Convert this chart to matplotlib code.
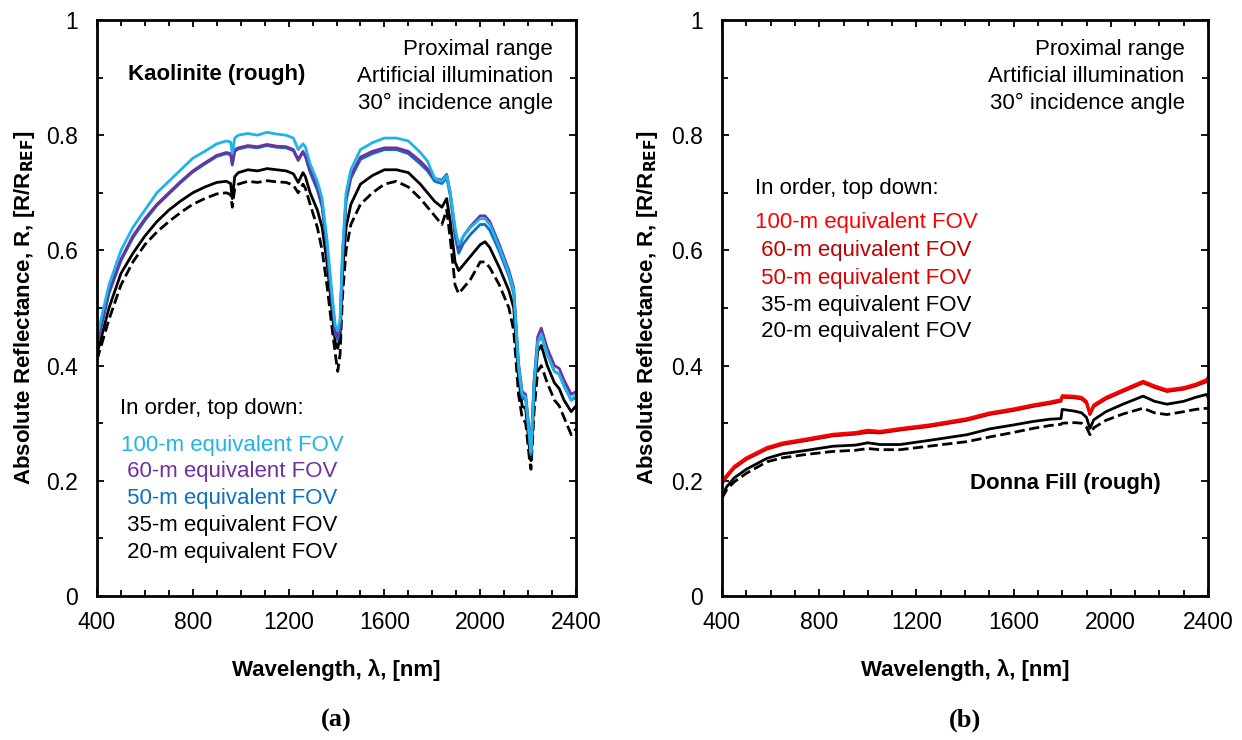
import matplotlib
matplotlib.use("Agg")
import matplotlib.pyplot as plt
from matplotlib.ticker import MultipleLocator

plt.rcParams['font.family'] = ['Liberation Sans', 'DejaVu Sans']

# ---------------- Panel (a): Kaolinite (rough) ----------------
wl_a = [400, 450, 500, 550, 600, 650, 700, 750, 800, 850, 900, 940, 958, 965, 975,
        990, 1030, 1070, 1110, 1150, 1190, 1220, 1240, 1260, 1270, 1290, 1320, 1340,
        1360, 1380, 1395, 1405, 1415, 1425, 1440, 1460, 1500, 1550, 1600, 1650, 1700,
        1750, 1780, 1810, 1840, 1860, 1875, 1895, 1910, 1930, 1960, 2000, 2020, 2040,
        2080, 2120, 2140, 2160, 2175, 2190, 2205, 2212, 2225, 2240, 2255, 2280, 2310,
        2330, 2350, 2380, 2400]

r_100 = [0.45, 0.54, 0.60, 0.64, 0.67, 0.70, 0.72, 0.74, 0.76, 0.772, 0.785, 0.79, 0.788, 0.768, 0.795,
         0.800, 0.803, 0.800, 0.805, 0.802, 0.800, 0.795, 0.775, 0.785, 0.78, 0.75, 0.72, 0.69,
         0.62, 0.53, 0.47, 0.46, 0.48, 0.60, 0.70, 0.74, 0.775, 0.787, 0.795, 0.795, 0.79,
         0.77, 0.755, 0.725, 0.72, 0.73, 0.70, 0.64, 0.61, 0.625, 0.64, 0.655, 0.655, 0.645,
         0.605, 0.56, 0.53, 0.40, 0.35, 0.345, 0.28, 0.25, 0.37, 0.44, 0.455, 0.42, 0.39,
         0.385, 0.365, 0.34, 0.35]

r_60 = [0.44, 0.53, 0.585, 0.625, 0.655, 0.68, 0.70, 0.72, 0.738, 0.752, 0.765, 0.77, 0.768, 0.75, 0.775,
        0.778, 0.782, 0.780, 0.784, 0.781, 0.780, 0.775, 0.758, 0.772, 0.765, 0.74, 0.71, 0.68,
        0.61, 0.52, 0.46, 0.45, 0.47, 0.59, 0.69, 0.73, 0.762, 0.772, 0.778, 0.778, 0.772,
        0.755, 0.742, 0.725, 0.722, 0.732, 0.70, 0.635, 0.605, 0.625, 0.642, 0.66, 0.66, 0.65,
        0.61, 0.565, 0.535, 0.405, 0.355, 0.35, 0.285, 0.255, 0.375, 0.45, 0.465, 0.43, 0.40,
        0.395, 0.375, 0.35, 0.355]

r_50 = [0.435, 0.525, 0.582, 0.622, 0.652, 0.678, 0.698, 0.718, 0.736, 0.75, 0.763, 0.768, 0.766, 0.748, 0.772,
        0.776, 0.780, 0.778, 0.782, 0.779, 0.778, 0.773, 0.756, 0.770, 0.763, 0.735, 0.705, 0.675,
        0.605, 0.515, 0.455, 0.445, 0.465, 0.585, 0.685, 0.725, 0.758, 0.768, 0.775, 0.775, 0.768,
        0.75, 0.738, 0.72, 0.716, 0.726, 0.695, 0.625, 0.595, 0.612, 0.628, 0.645, 0.645, 0.635,
        0.598, 0.555, 0.525, 0.395, 0.345, 0.34, 0.275, 0.245, 0.365, 0.44, 0.452, 0.42, 0.39,
        0.385, 0.365, 0.34, 0.345]

r_35 = [0.42, 0.50, 0.56, 0.595, 0.625, 0.65, 0.67, 0.686, 0.70, 0.71, 0.718, 0.72, 0.716, 0.69, 0.728,
        0.735, 0.740, 0.738, 0.742, 0.740, 0.738, 0.733, 0.718, 0.735, 0.728, 0.70, 0.67, 0.64,
        0.58, 0.50, 0.44, 0.43, 0.45, 0.56, 0.64, 0.68, 0.715, 0.73, 0.74, 0.74, 0.735,
        0.715, 0.70, 0.685, 0.675, 0.69, 0.65, 0.58, 0.565, 0.575, 0.59, 0.61, 0.615, 0.605,
        0.57, 0.53, 0.50, 0.38, 0.33, 0.325, 0.26, 0.235, 0.35, 0.425, 0.435, 0.40, 0.37,
        0.36, 0.34, 0.32, 0.33]

r_20 = [0.41, 0.48, 0.54, 0.58, 0.61, 0.632, 0.65, 0.666, 0.68, 0.69, 0.698, 0.70, 0.697, 0.675, 0.708,
        0.715, 0.720, 0.718, 0.721, 0.719, 0.718, 0.713, 0.70, 0.715, 0.708, 0.68, 0.64, 0.60,
        0.54, 0.47, 0.42, 0.39, 0.42, 0.52, 0.60, 0.645, 0.68, 0.70, 0.715, 0.72, 0.71,
        0.69, 0.675, 0.66, 0.645, 0.67, 0.62, 0.54, 0.525, 0.535, 0.55, 0.58, 0.58, 0.57,
        0.54, 0.50, 0.46, 0.35, 0.31, 0.30, 0.24, 0.22, 0.32, 0.39, 0.40, 0.37, 0.34,
        0.33, 0.31, 0.28, 0.29]

# ---------------- Panel (b): Donna Fill (rough) ----------------
wl_b = [400, 420, 450, 500, 585, 650, 750, 857, 950, 1000, 1050, 1133, 1250, 1408, 1500,
        1600, 1680, 1750, 1795, 1800, 1850, 1880, 1900, 1914, 1930, 1980, 2050, 2133,
        2180, 2231, 2300, 2350, 2395, 2400]

d_100 = [0.20, 0.21, 0.225, 0.24, 0.258, 0.266, 0.273, 0.281, 0.284, 0.288, 0.286, 0.291, 0.297, 0.308, 0.318,
         0.325, 0.332, 0.337, 0.341, 0.348, 0.347, 0.345, 0.338, 0.318, 0.332, 0.345, 0.358, 0.373,
         0.365, 0.358, 0.362, 0.368, 0.376, 0.38]
d_60 = [0.195, 0.207, 0.222, 0.237, 0.255, 0.263, 0.270, 0.278, 0.281, 0.284, 0.283, 0.288, 0.294, 0.305, 0.315,
        0.322, 0.329, 0.334, 0.338, 0.345, 0.344, 0.342, 0.335, 0.315, 0.329, 0.342, 0.355, 0.370,
        0.362, 0.355, 0.359, 0.365, 0.372, 0.375]
d_50 = [0.197, 0.208, 0.223, 0.238, 0.256, 0.264, 0.271, 0.279, 0.282, 0.286, 0.284, 0.289, 0.295, 0.306, 0.316,
        0.323, 0.330, 0.335, 0.339, 0.346, 0.345, 0.343, 0.336, 0.316, 0.330, 0.343, 0.356, 0.371,
        0.363, 0.356, 0.360, 0.366, 0.374, 0.378]
d_35 = [0.175, 0.19, 0.205, 0.22, 0.239, 0.247, 0.253, 0.260, 0.262, 0.266, 0.263, 0.263, 0.270, 0.280, 0.290,
        0.297, 0.303, 0.307, 0.308, 0.324, 0.321, 0.318, 0.310, 0.291, 0.306, 0.320, 0.333, 0.347,
        0.338, 0.333, 0.338, 0.345, 0.350, 0.345]
d_20 = [0.17, 0.185, 0.198, 0.213, 0.233, 0.240, 0.246, 0.251, 0.253, 0.256, 0.254, 0.254, 0.260, 0.268, 0.276,
        0.284, 0.291, 0.296, 0.298, 0.300, 0.301, 0.300, 0.293, 0.280, 0.292, 0.305, 0.316, 0.326,
        0.318, 0.315, 0.320, 0.324, 0.326, 0.325]

legend_labels = ["100-m equivalent FOV", " 60-m equivalent FOV", " 50-m equivalent FOV",
                 " 35-m equivalent FOV", " 20-m equivalent FOV"]
colors_a = ["#1EB4EA", "#7030A0", "#0F70C0", "black", "black"]
colors_b = ["#FF0000", "#C00000", "#E00000", "black", "black"]
styles = ["-", "-", "-", "-", "--"]

x_ticks = [400, 800, 1200, 1600, 2000, 2400]
y_ticks = [0, 0.2, 0.4, 0.6, 0.8, 1]
y_ticklabels = ["0", "0.2", "0.4", "0.6", "0.8", "1"]

FS = 16

fig = plt.figure(figsize=(12.42, 7.40), dpi=100)
ax_a = fig.add_axes([97/1242, 144/740, 479/1242, 576/740])
ax_b = fig.add_axes([722/1242, 144/740, 486/1242, 576/740])


def style_axes(ax, ylab_x):
    ax.set_xlim(400, 2400)
    ax.set_ylim(0, 1)
    ax.set_xticks(x_ticks)
    ax.set_xticklabels([str(v) for v in x_ticks])
    ax.set_yticks(y_ticks)
    ax.set_yticklabels(y_ticklabels)
    ax.xaxis.set_minor_locator(MultipleLocator(100))
    ax.yaxis.set_minor_locator(MultipleLocator(0.1))
    ax.tick_params(which='both', direction='in', top=True, right=True,
                   labelsize=16.5, width=1.3)
    ax.tick_params(axis='x', which='major', pad=11)
    ax.tick_params(axis='y', which='major', pad=14)
    ax.tick_params(which='major', length=5)
    ax.tick_params(which='minor', length=4)
    for s in ax.spines.values():
        s.set_linewidth(2)
    xl = ax.set_xlabel("Wavelength, λ, [nm]", fontsize=FS, fontweight='bold')
    xl.set_va('center')
    ax.xaxis.set_label_coords(0.5, -0.128)
    yl = ax.set_ylabel(r"Absolute Reflectance, R, [R/R$_{\mathbf{REF}}$]", fontsize=FS,
                       fontweight='bold')
    yl.set_va('center')
    ax.yaxis.set_label_coords(ylab_x, 0.5)
    for i, t in enumerate(["Proximal range", "Artificial illumination", "30° incidence angle"]):
        ax.text(0.952, 0.948 - i*0.046, t, transform=ax.transAxes, ha='right', va='center',
                fontsize=FS)


style_axes(ax_a, -0.152)
style_axes(ax_b, -0.153)

series_a = [r_100, r_60, r_50, r_35, r_20]
for vals, c, ls in zip(series_a[::-1], colors_a[::-1], styles[::-1]):
    ax_a.plot(wl_a, vals, color=c, linestyle=ls, linewidth=2.0)

series_b = [d_100, d_60, d_50, d_35, d_20]
for vals, c, ls in zip(series_b[::-1], colors_b[::-1], styles[::-1]):
    ax_b.plot(wl_b, vals, color=c, linestyle=ls, linewidth=2.0)

# Panel (a) annotations
ax_a.text(0.065, 0.905, "Kaolinite (rough)", transform=ax_a.transAxes, ha='left', va='center',
          fontsize=FS, fontweight='bold')
ax_a.text(0.048, 0.326, "In order, top down:", transform=ax_a.transAxes, ha='left', va='center',
          fontsize=FS)
ya = [0.261, 0.216, 0.169, 0.123, 0.076]
for lab, c, y in zip(legend_labels, colors_a, ya):
    ax_a.text(0.05, y, lab, transform=ax_a.transAxes, ha='left', va='center', fontsize=FS, color=c)

# Panel (b) annotations
ax_b.text(0.51, 0.196, "Donna Fill (rough)", transform=ax_b.transAxes, ha='left', va='center',
          fontsize=FS, fontweight='bold')
ax_b.text(0.068, 0.708, "In order, top down:", transform=ax_b.transAxes, ha='left', va='center',
          fontsize=FS)
yb = [0.649, 0.600, 0.552, 0.505, 0.460]
for lab, c, y in zip(legend_labels, colors_b, yb):
    ax_b.text(0.068, y, lab, transform=ax_b.transAxes, ha='left', va='center', fontsize=FS, color=c)

fig.text(336/1242, 1 - 720/740, "(a)", ha='center', va='center', fontsize=19,
         fontweight='bold', family='Liberation Serif')
fig.text(965/1242, 1 - 720/740, "(b)", ha='center', va='center', fontsize=19,
         fontweight='bold', family='Liberation Serif')

fig.savefig("out.png", dpi=100)
